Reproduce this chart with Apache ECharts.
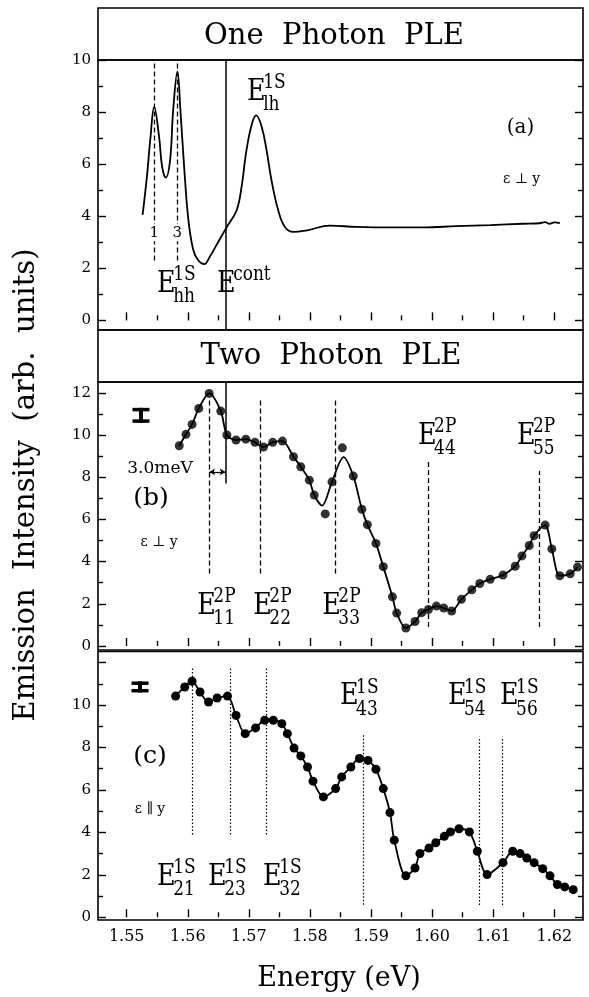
<!DOCTYPE html>
<html>
<head>
<meta charset="utf-8">
<script src="https://cdn.jsdelivr.net/npm/echarts@6/dist/echarts.min.js"></script>
<style>html,body{margin:0;padding:0;background:#fff;}#c{width:589px;height:997px;}</style>
</head>
<body>
<div id="c"></div>
<script>
// ---------------- data ----------------
// Panel (a): one-photon PLE curve
const aEnergy = [1.5526,1.5533,1.5539,1.5545,1.5553,1.5558,1.5564,1.5571,1.5576,1.5583,1.5588,1.5594,1.5601,1.5609,1.5617,1.5627,1.5636,1.5650,1.5664,1.5680,1.5688,1.5696,1.5705,1.5712,1.5721,1.5729,1.5737,1.5748,1.5759,1.5773,1.5795,1.5833,1.5876,1.5931,1.5985,1.6040,1.6095,1.6149,1.6176,1.6185,1.6192,1.6200,1.6209];
const aIntensity = [4.05,5.50,7.05,8.20,7.05,5.90,5.48,6.15,8.05,9.55,8.05,5.90,3.85,2.70,2.31,2.16,2.44,3.02,3.59,4.23,5.12,6.53,7.55,7.87,7.43,6.53,5.38,4.23,3.59,3.40,3.46,3.64,3.59,3.57,3.57,3.62,3.66,3.71,3.73,3.77,3.71,3.76,3.74];

// Panel (b): two-photon PLE, eps perp y (measured points)
const bEnergy = [1.5586,1.5597,1.5607,1.5618,1.5635,1.5654,1.5664,1.5679,1.5695,1.5710,1.5724,1.5739,1.5755,1.5773,1.5785,1.5799,1.5807,1.5825,1.5836,1.5853,1.5871,1.5885,1.5894,1.5908,1.5920,1.5935,1.5942,1.5957,1.5972,1.5983,1.5994,1.6007,1.6019,1.6032,1.6048,1.6065,1.6078,1.6095,1.6116,1.6136,1.6147,1.6159,1.6167,1.6185,1.6196,1.6209,1.6226,1.6238];
const bIntensity = [9.49,10.03,10.50,11.26,11.97,11.13,10.00,9.76,9.80,9.65,9.43,9.65,9.71,8.97,8.49,7.86,7.15,6.26,7.78,9.39,8.05,6.48,5.75,4.86,3.76,2.33,1.56,0.85,1.16,1.58,1.73,1.89,1.80,1.66,2.21,2.66,2.96,3.16,3.36,3.78,4.27,4.76,5.23,5.73,4.60,3.33,3.42,3.74];
// Panel (b): drawn guide curve
const bCurveEnergy = [1.5586,1.5597,1.5607,1.5618,1.5635,1.5654,1.5664,1.5679,1.5695,1.5710,1.5724,1.5739,1.5755,1.5773,1.5785,1.5799,1.5807,1.5820,1.5836,1.5855,1.5871,1.5885,1.5894,1.5908,1.5920,1.5935,1.5942,1.5957,1.5972,1.5983,1.5994,1.6007,1.6019,1.6032,1.6048,1.6065,1.6078,1.6095,1.6116,1.6136,1.6147,1.6159,1.6167,1.6185,1.6196,1.6209,1.6226,1.6238];
const bCurveIntensity = [9.49,10.03,10.50,11.26,11.97,11.13,10.00,9.76,9.80,9.65,9.43,9.65,9.71,8.97,8.49,7.86,7.15,6.65,7.78,8.95,8.05,6.48,5.75,4.86,3.76,2.33,1.56,0.85,1.16,1.58,1.73,1.89,1.80,1.66,2.21,2.66,2.96,3.16,3.36,3.78,4.27,4.76,5.23,5.73,4.60,3.33,3.42,3.74];

// Panel (c): two-photon PLE, eps parallel y
const cEnergy = [1.5580,1.5595,1.5607,1.5620,1.5634,1.5648,1.5665,1.5679,1.5694,1.5711,1.5726,1.5740,1.5754,1.5763,1.5774,1.5785,1.5796,1.5805,1.5822,1.5842,1.5852,1.5867,1.5881,1.5895,1.5908,1.5920,1.5931,1.5938,1.5957,1.5972,1.5980,1.5995,1.6006,1.6020,1.6030,1.6044,1.6061,1.6074,1.6090,1.6116,1.6132,1.6144,1.6155,1.6167,1.6181,1.6193,1.6205,1.6217,1.6231];
const cIntensity = [10.42,10.85,11.12,10.61,10.14,10.33,10.42,9.51,8.65,8.92,9.28,9.28,9.12,8.65,7.97,7.60,7.08,6.41,5.67,6.06,6.61,7.08,7.48,7.39,6.97,6.06,4.93,3.63,1.95,2.32,3.00,3.26,3.51,3.81,4.02,4.17,4.02,3.11,2.01,2.57,3.11,3.00,2.79,2.57,2.29,1.95,1.54,1.43,1.30];

// Transition markers [energy, from, to]
const aDashed = [[1.5545, 2.3, 10], [1.5583, 2.3, 10]];
const aCont = [[1.5662, -0.37, 10]];
const bDashed = [[1.5635, 3.43, 11.7], [1.5719, 3.43, 11.65], [1.5842, 3.43, 11.65], [1.5993, 0.9, 8.73], [1.6176, 0.9, 8.29]];
const bCont = [[1.5662, 7.7, 12.51]];
const bArrow = [[1.5635, 1.5662, 8.25]];
const cDotted = [[1.5607, 3.9, 11.8], [1.5669, 3.9, 11.8], [1.5729, 3.9, 11.8], [1.5888, 0.59, 8.57], [1.6077, 0.58, 8.5], [1.6115, 0.58, 8.5]];

// Axes / ticks
const xMin = 1.5453, xMax = 1.6247;
const xMajorTicks = [1.55, 1.56, 1.57, 1.58, 1.59, 1.60, 1.61, 1.62];
const xMinorTicks = [1.555, 1.565, 1.575, 1.585, 1.595, 1.605, 1.615];
const aRange = [-0.37, 10], bRange = [-0.19, 12.51], cRange = [-0.13, 12.52];
const aMajor = [0, 2, 4, 6, 8, 10], aMinor = [1, 3, 5, 7, 9];
const bMajor = [0, 2, 4, 6, 8, 10, 12], bMinor = [1, 3, 5, 7, 9, 11];
const cMajor = [0, 2, 4, 6, 8, 10, 12], cMinor = [1, 3, 5, 7, 9, 11];
const aLabels = [0, 2, 4, 6, 8, 10], bLabels = [0, 2, 4, 6, 8, 10, 12], cLabels = [0, 2, 4, 6, 8, 10];

// Annotations [seriesIndex, energy, intensity, main, sup, sub]
const stateLabels = [
  [0, 1.56969, 8.78, 'E', '1S', 'lh'],
  [0, 1.55496, 1.39, 'E', '1S', 'hh'],
  [0, 1.56478, 1.39, 'E', 'cont', ''],
  [1, 1.56154, 1.90, 'E', '2P', '11'],
  [1, 1.57071, 1.90, 'E', '2P', '22'],
  [1, 1.58200, 1.90, 'E', '2P', '33'],
  [1, 1.59768, 9.94, 'E', '2P', '44'],
  [1, 1.61388, 9.94, 'E', '2P', '55'],
  [3, 1.55496, 1.90, 'E', '1S', '21'],
  [3, 1.56331, 1.90, 'E', '1S', '23'],
  [3, 1.57231, 1.90, 'E', '1S', '32'],
  [3, 1.58491, 10.40, 'E', '1S', '43'],
  [3, 1.60258, 10.40, 'E', '1S', '54'],
  [3, 1.61110, 10.40, 'E', '1S', '56']
];
// plain texts [seriesIndex, energy, intensity, text, fontSize, whiteBg]
const plainTexts = [
  [0, 1.61447, 7.38, '(a)', 20, false],
  [0, 1.61464, 5.42, 'ε ⊥ y', 14, false],
  [0, 1.55452, 3.37, '1', 15, true],
  [0, 1.55828, 3.37, '3', 15, true],
  [1, 1.55398, 6.97, '(b)', 25, false],
  [1, 1.55529, 4.89, 'ε ⊥ y', 14, false],
  [1, 1.55545, 8.40, '3.0meV', 17, false],
  [3, 1.55381, 7.55, '(c)', 25, false],
  [3, 1.55381, 5.06, 'ε ∥ y', 14, false]
];
// error bar glyphs [seriesIndex, energy, intensity, height(px)]
const errorBars = [[1, 1.55234, 10.93, 15], [3, 1.55218, 10.85, 11]];

// ---------------- chart ----------------
const FONT = 'DejaVu Serif';
const grids = [
  {left: 98, width: 485, top: 60, height: 270},
  {left: 98, width: 485, top: 382, height: 268},
  {left: 98, width: 485, top: 651.5, height: 268.5}
].map(g => Object.assign(g, {show: true, borderColor: '#000', borderWidth: 1.6, backgroundColor: 'transparent'}));

const tickStyle = {color: '#000', width: 1.4};
function xAxesFor(gi, withLabels) {
  const base = {gridIndex: gi, type: 'value', min: xMin, max: xMax, position: 'bottom',
    axisLine: {show: false}, splitLine: {show: false}};
  return [
    Object.assign({}, base, {
      axisTick: {show: true, inside: true, length: 8, customValues: xMajorTicks, lineStyle: tickStyle},
      axisLabel: {show: withLabels, customValues: xMajorTicks, margin: 9, color: '#000',
        fontFamily: FONT, fontSize: 16, formatter: v => v.toFixed(2)}
    }),
    Object.assign({}, base, {
      axisTick: {show: true, inside: true, length: 5, customValues: xMinorTicks, lineStyle: tickStyle},
      axisLabel: {show: false}
    })
  ];
}
function yAxesFor(gi, range, major, minor, labels) {
  const base = {gridIndex: gi, type: 'value', min: range[0], max: range[1],
    axisLine: {show: false}, splitLine: {show: false}};
  const out = [];
  ['left', 'right'].forEach(pos => {
    out.push(Object.assign({}, base, {position: pos,
      axisTick: {show: true, inside: true, length: 8, customValues: major, lineStyle: tickStyle},
      axisLabel: {show: pos === 'left', customValues: labels, margin: 7, color: '#000', fontFamily: FONT, fontSize: 15}
    }));
    out.push(Object.assign({}, base, {position: pos,
      axisTick: {show: true, inside: true, length: 5, customValues: minor, lineStyle: tickStyle},
      axisLabel: {show: false}
    }));
  });
  return out;
}
const xAxis = [].concat(xAxesFor(0, false), xAxesFor(1, false), xAxesFor(2, true));
const yAxis = [].concat(yAxesFor(0, aRange, aMajor, aMinor, aLabels),
                        yAxesFor(1, bRange, bMajor, bMinor, bLabels),
                        yAxesFor(2, cRange, cMajor, cMinor, cLabels));

const zip = (xs, ys) => xs.map((x, i) => [x, ys[i]]);
function vLines(list, style) {
  return list.map(m => [{coord: [m[0], m[1]], lineStyle: style}, {coord: [m[0], m[2]]}]);
}
const dashStyle = {color: '#000', width: 1.3, type: [5, 3]};
const solidStyle = {color: '#000', width: 1.5, type: 'solid'};
const dotStyle = {color: '#000', width: 1.2, type: [1.5, 2]};
const mlBase = {silent: true, symbol: ['none', 'none'], label: {show: false}, animation: false};

const series = [
  {type: 'line', xAxisIndex: 0, yAxisIndex: 0, data: zip(aEnergy, aIntensity), smooth: 0.4,
   showSymbol: false, lineStyle: {color: '#000', width: 1.8},
   markLine: Object.assign({}, mlBase, {data: [].concat(vLines(aDashed, dashStyle), vLines(aCont, solidStyle))})},
  {type: 'line', xAxisIndex: 2, yAxisIndex: 4, data: zip(bCurveEnergy, bCurveIntensity), smooth: 0.3,
   showSymbol: false, lineStyle: {color: '#000', width: 1.8},
   markLine: Object.assign({}, mlBase, {data: [].concat(vLines(bDashed, dashStyle), vLines(bCont, solidStyle),
     bArrow.map(a => [{coord: [a[0], a[2]], lineStyle: {color: '#000', width: 1.2, type: 'solid'}, symbol: 'arrow', symbolSize: [5, 6]},
                      {coord: [a[1], a[2]], symbol: 'arrow', symbolSize: [5, 6]}]))})},
  {type: 'scatter', xAxisIndex: 2, yAxisIndex: 4, data: zip(bEnergy, bIntensity), symbol: 'circle', symbolSize: 9,
   itemStyle: {color: '#000'}},
  {type: 'line', xAxisIndex: 4, yAxisIndex: 8, data: zip(cEnergy, cIntensity), smooth: 0.3,
   symbol: 'circle', symbolSize: 9, showSymbol: true, itemStyle: {color: '#000'}, lineStyle: {color: '#000', width: 1.8},
   markLine: Object.assign({}, mlBase, {data: vLines(cDotted, dotStyle)})}
];

const chart = echarts.init(document.getElementById('c'), null, {renderer: 'canvas'});
chart.setOption({animation: false, backgroundColor: '#fff', grid: grids, xAxis: xAxis, yAxis: yAxis, series: series});

// ---------------- annotations ----------------
const g = [];
g.push({type: 'rect', shape: {x: 98, y: 8, width: 485, height: 52}, style: {fill: 'none', stroke: '#000', lineWidth: 1.6}});
g.push({type: 'rect', shape: {x: 98, y: 330, width: 485, height: 52}, style: {fill: 'none', stroke: '#000', lineWidth: 1.6}});
g.push({type: 'text', x: 334, y: 36, style: {text: 'One  Photon  PLE', fontFamily: FONT, fontSize: 29, fill: '#000', align: 'center', verticalAlign: 'middle'}});
g.push({type: 'text', x: 331, y: 356, style: {text: 'Two  Photon  PLE', fontFamily: FONT, fontSize: 29, fill: '#000', align: 'center', verticalAlign: 'middle'}});
g.push({type: 'text', x: 26, y: 485, rotation: Math.PI / 2, style: {text: 'Emission  Intensity  (arb.  units)', fontFamily: FONT, fontSize: 29, fill: '#000', align: 'center', verticalAlign: 'middle'}});
g.push({type: 'text', x: 339, y: 979, style: {text: 'Energy (eV)', fontFamily: FONT, fontSize: 27, fill: '#000', align: 'center', verticalAlign: 'middle'}});

stateLabels.forEach(l => {
  const p = chart.convertToPixel({seriesIndex: l[0]}, [l[1], l[2]]);
  const children = [
    {type: 'text', x: 0, y: 0, style: {text: l[3], fontFamily: FONT, fontSize: 30, fill: '#000', align: 'left', verticalAlign: 'middle'}},
    {type: 'text', x: 19, y: -9, style: {text: l[4], fontFamily: FONT, fontSize: 20, fill: '#000', align: 'left', verticalAlign: 'middle'}}
  ];
  if (l[5]) children.push({type: 'text', x: 19, y: 13, style: {text: l[5], fontFamily: FONT, fontSize: 20, fill: '#000', align: 'left', verticalAlign: 'middle'}});
  g.push({type: 'group', x: p[0], y: p[1], scaleX: 0.85, children: children});
});
plainTexts.forEach(t => {
  const p = chart.convertToPixel({seriesIndex: t[0]}, [t[1], t[2]]);
  g.push({type: 'text', x: p[0], y: p[1], z: 10, style: {text: t[3], fontFamily: FONT, fontSize: t[4], fill: '#000',
    align: 'center', verticalAlign: 'middle', backgroundColor: t[5] ? '#fff' : 'transparent', padding: t[5] ? [1, 0] : 0}});
});
errorBars.forEach(e => {
  const p = chart.convertToPixel({seriesIndex: e[0]}, [e[1], e[2]]);
  const h = e[3], w = 17;
  g.push({type: 'group', x: p[0], y: p[1], children: [
    {type: 'rect', shape: {x: -w / 2, y: -h / 2, width: w, height: 3.5}, style: {fill: '#000'}},
    {type: 'rect', shape: {x: -w / 2, y: h / 2 - 3.5, width: w, height: 3.5}, style: {fill: '#000'}},
    {type: 'rect', shape: {x: -2, y: -h / 2, width: 4, height: h}, style: {fill: '#000'}}
  ]});
});
chart.setOption({graphic: g});
</script>
</body>
</html>
